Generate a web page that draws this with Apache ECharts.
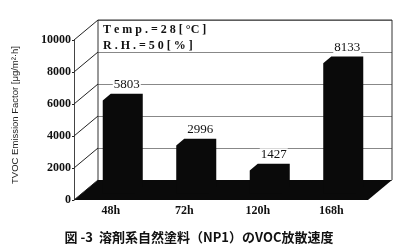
<!DOCTYPE html>
<html><head><meta charset="utf-8">
<script src="https://cdn.jsdelivr.net/npm/echarts@6/dist/echarts.min.js"></script>
<style>html,body{margin:0;padding:0;background:#fff}#c{width:400px;height:252px}</style>
</head><body><div id="c"></div>
<script>
const categories = ['48h', '72h', '120h', '168h'];
const values = [5803, 2996, 1427, 8133];
const yTicks = [0, 2000, 4000, 6000, 8000, 10000];
const yAxisName = 'TVOC Emission Factor [μg/m²·h]';
const chartTitle = '図 -3  溶剤系自然塗料（NP1）のVOC放散速度';
const noteLines = ['T e m p . = 2 8 [ °C ]', 'R . H . = 5 0 [ % ]'];

// 3D look: depth vector from back wall to front plane
const DEPTH = [-24, 20];
const FRONT_T = 0.667, BACK_T = 0.333;
const BAR_W = 32;
const SERIF = '"Liberation Serif", "DejaVu Serif", serif';

const chart = echarts.init(document.getElementById('c'), null, {renderer: 'canvas'});

function renderWalls(params, api) {
  const cs = params.coordSys;
  const x = cs.x, y = cs.y, w = cs.width, h = cs.height;
  const children = [];
  children.push({type: 'polygon', shape: {points: [[x, y + h], [x + w, y + h], [x + w + DEPTH[0], y + h + DEPTH[1]], [x + DEPTH[0], y + h + DEPTH[1]]]},
    style: {fill: '#0a0a0a'}});
  children.push({type: 'polyline', shape: {points: [[x, y + h], [x, y], [x + w, y], [x + w, y + h]]},
    style: {stroke: '#333', lineWidth: 1, fill: null}});
  yTicks.forEach(function (t) {
    const yy = api.coord([0, t])[1];
    children.push({type: 'line', shape: {x1: x + DEPTH[0], y1: yy + DEPTH[1], x2: x, y2: yy},
      style: {stroke: '#222', lineWidth: 1}});
  });
  return {type: 'group', children: children};
}

function renderBar(params, api) {
  const i = api.value(0), v = api.value(1);
  const top = api.coord([i, v]), base = api.coord([i, 0]);
  const c = top[0], yt = top[1], yb = base[1];
  const f = [DEPTH[0] * FRONT_T, DEPTH[1] * FRONT_T];
  const b = [DEPTH[0] * BACK_T, DEPTH[1] * BACK_T];
  const hw = BAR_W / 2;
  const pts = [
    [c + f[0] - hw, yb + f[1]], [c + f[0] - hw, yt + f[1]],
    [c + b[0] - hw, yt + b[1]], [c + b[0] + hw, yt + b[1]],
    [c + b[0] + hw, yb + b[1]], [c + f[0] + hw, yb + f[1]]
  ];
  return {type: 'group', children: [
    {type: 'polygon', shape: {points: pts}, style: {fill: '#0a0a0a'}},
    {type: 'text', style: {text: String(v), x: c + b[0], y: yt + b[1] - 9, align: 'center', verticalAlign: 'middle',
      font: '13px ' + SERIF, fill: '#111', backgroundColor: '#fff', padding: [0, 1]}}
  ]};
}

chart.setOption({
  animation: false,
  backgroundColor: '#fff',
  grid: [
    {left: 98, top: 20, width: 294, height: 160},
    {left: 74, top: 40, width: 294, height: 160}
  ],
  xAxis: [
    {type: 'category', gridIndex: 0, data: categories, show: false},
    {type: 'category', gridIndex: 1, data: categories, axisLine: {show: false}, axisTick: {show: false},
      axisLabel: {margin: 5, fontFamily: SERIF, fontWeight: 'bold', fontSize: 12, color: '#111'}}
  ],
  yAxis: [
    {type: 'value', gridIndex: 0, min: 0, max: 10000, interval: 2000, axisLine: {show: false}, axisTick: {show: false},
      axisLabel: {show: false}, splitLine: {show: true, lineStyle: {color: '#888', width: 1}}},
    {type: 'value', gridIndex: 1, min: 0, max: 10000, interval: 2000,
      axisLine: {show: true, lineStyle: {color: '#444', width: 1}}, axisTick: {show: true, length: 2, lineStyle: {color: '#222'}},
      axisLabel: {margin: 3, fontFamily: SERIF, fontWeight: 'bold', fontSize: 12, color: '#111',
        formatter: function (v) { return String(v); }},
      splitLine: {show: false}}
  ],
  series: [
    {type: 'custom', xAxisIndex: 0, yAxisIndex: 0, data: [[0, 0]], renderItem: renderWalls, z: 1, silent: true},
    {type: 'custom', xAxisIndex: 0, yAxisIndex: 0, data: values.map(function (v, i) { return [i, v]; }),
      renderItem: renderBar, z: 3, silent: true}
  ],
  graphic: [
    {type: 'text', x: 15, y: 115, rotation: Math.PI / 2, style: {text: yAxisName, align: 'center', verticalAlign: 'middle',
      font: '9.5px "Liberation Sans", Arial, sans-serif', fill: '#222'}},
    {type: 'text', x: 103, y: 30, style: {text: noteLines[0], align: 'left', verticalAlign: 'middle',
      font: 'bold 12px ' + SERIF, fill: '#111'}, z: 10},
    {type: 'text', x: 103, y: 46, style: {text: noteLines[1], align: 'left', verticalAlign: 'middle',
      font: 'bold 12px ' + SERIF, fill: '#111', backgroundColor: '#fff'}, z: 10},
    {type: 'text', x: 199, y: 237, style: {text: chartTitle, align: 'center', verticalAlign: 'middle',
      font: 'bold 13px "Noto Sans CJK JP", sans-serif', fill: '#111'}}
  ]
});
</script></body></html>
